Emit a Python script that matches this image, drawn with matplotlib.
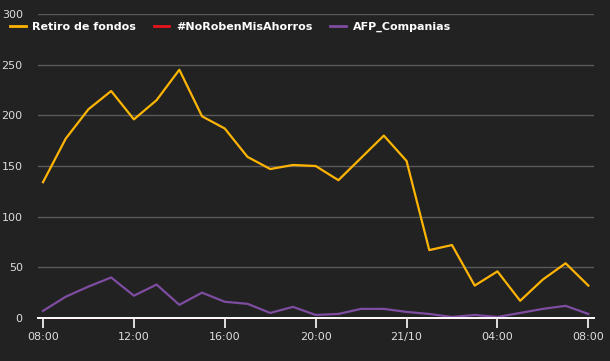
import matplotlib
matplotlib.use("Agg")
import matplotlib.pyplot as plt
from matplotlib.lines import Line2D

# hourly counts, 08:00 day 1 -> 08:00 day 2
hours = list(range(25))
retiro = [134, 177, 206, 224, 196, 215, 245, 199, 187, 159, 147, 151, 150,
          136, 158, 180, 155, 67, 72, 32, 46, 17, 38, 54, 32]
no_roben = [0] * 25
afp = [7, 21, 31, 40, 22, 33, 13, 25, 16, 14, 5, 11, 3,
       4, 9, 9, 6, 4, 1, 3, 1, 5, 9, 12, 4]

tick_pos = [0, 4, 8, 12, 16, 20, 24]
tick_labels = ["08:00", "12:00", "16:00", "20:00", "21/10", "04:00", "08:00"]

series_names = ["Retiro de fondos", "#NoRobenMisAhorros", "AFP_Companias"]
colors = ["#FFB400", "#E8141B", "#7E4CA0"]

bg = "#222222"
fig = plt.figure(figsize=(6.1, 3.61), dpi=100, facecolor=bg)
ax = fig.add_axes([38 / 610, 1 - 318 / 361, (594 - 38) / 610, (318 - 14) / 361])
ax.set_facecolor(bg)

for i, (vals, c) in enumerate(zip([retiro, no_roben, afp], colors)):
    # the all-zero series sits under the axis line
    ax.plot(hours, vals, color=c, lw=1.6 if i != 1 else 0.8,
            zorder=2 if i != 1 else 1, clip_on=False)

ax.set_xlim(-0.22, 24.25)
ax.set_ylim(0, 300)
ax.set_yticks(range(0, 301, 50))
ax.grid(axis="y", color="#5a5a5a", lw=1)
ax.set_axisbelow(True)

for s in ["top", "right", "left"]:
    ax.spines[s].set_visible(False)
ax.spines["bottom"].set_color("white")
ax.spines["bottom"].set_linewidth(1.4)
ax.spines["bottom"].set_zorder(3)

ax.set_xticks(tick_pos)
ax.set_xticklabels(tick_labels)
ax.tick_params(axis="x", colors="white", length=7, width=1.2, labelsize=8,
               labelcolor="#dddddd", pad=3)
ax.tick_params(axis="y", length=0, labelsize=8, labelcolor="#dddddd", pad=11)

handles = [Line2D([], [], color=c, lw=2) for c in colors]
leg = fig.legend(handles, series_names, loc="upper left", ncol=3,
                 bbox_to_anchor=(0.0, 1 - 12 / 361), frameon=False,
                 handlelength=1.4, handletextpad=0.6, columnspacing=1.6,
                 prop={"weight": "bold", "size": 8})
for t in leg.get_texts():
    t.set_color("white")

fig.savefig("out.png", dpi=100, facecolor=bg)
